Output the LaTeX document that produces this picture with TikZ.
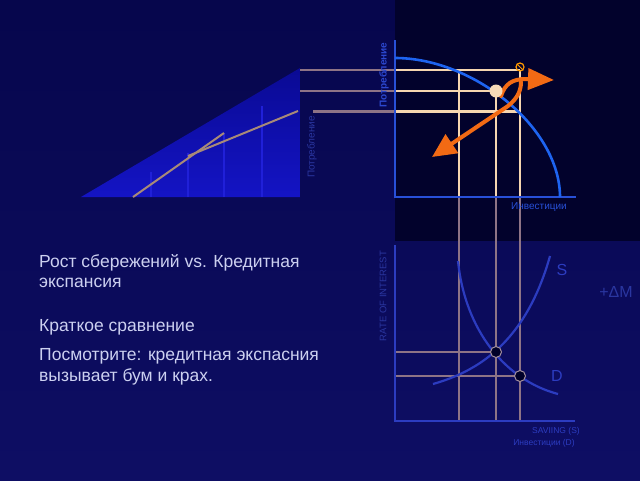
\documentclass[tikz,border=0pt]{standalone}
\usepackage{fontspec}
\setmainfont{Liberation Sans}
\usetikzlibrary{arrows.meta}
\definecolor{bgtop}{HTML}{06064C}
\definecolor{bgbot}{HTML}{0E0E64}
\definecolor{darkq}{HTML}{02022C}
\definecolor{peach}{HTML}{F6D6B0}
\definecolor{mauve}{HTML}{8E7486}
\definecolor{tanl}{HTML}{A88A78}
\definecolor{axisblue}{HTML}{2850D8}
\definecolor{arcblue}{HTML}{1E64F0}
\definecolor{curveblue}{HTML}{2C3CC0}
\definecolor{labelblue}{HTML}{2C48D0}
\definecolor{dimblue}{HTML}{2A36A0}
\definecolor{txt}{HTML}{CCD0F0}
\definecolor{orng}{HTML}{F26A14}
\definecolor{tribot}{HTML}{1414C4}
\definecolor{tritop}{HTML}{0A0A94}
\definecolor{barline}{HTML}{2020D8}
\tikzset{
  peachline/.style={draw=peach, line width=2.6pt},
  mauveline/.style={draw=mauve, line width=2.6pt},
  tanline/.style={draw=tanl, line width=2pt},
  axisline/.style={draw=axisblue, line width=2pt},
  axisdim/.style={draw=curveblue, line width=2pt},
  curve/.style={draw=curveblue, line width=2.2pt},
  eqdot/.style={circle, fill=black!60!blue!40!black, draw=mauve!80!white, line width=1pt, minimum size=11pt, inner sep=0pt},
  bodytext/.style={anchor=base west, text=txt, font=\fontsize{17.5}{20}\selectfont, inner sep=0pt},
  smalllabel/.style={inner sep=0pt, font=\fontsize{9.5}{11}\selectfont},
  orangearrow/.style={draw=orng, line width=4pt, line cap=round},
}
\begin{document}
\begin{tikzpicture}[x=1pt,y=-1pt]
\useasboundingbox (0,0) rectangle (640,480);
% background
\shade[top color=bgtop, bottom color=bgbot] (0,0) rectangle (640,480);
\fill[darkq] (395,0) rectangle (640,241);

% left triangle
\shade[bottom color=tribot, top color=tritop] (81,197) -- (300,197) -- (300,68) -- cycle;
\foreach \x/\y in {151/172,188/153,224/133,262/106}
  \draw[barline, line width=1.4pt] (\x,197) -- (\x,\y);
\coordinate (t1a) at (133,197); \coordinate (t1b) at (224,133);
\coordinate (t2a) at (188,156); \coordinate (t2b) at (298,111);
\draw[tanline] (t1a) -- (t1b);
\draw[tanline] (t2a) -- (t2b);

% coordinates of the grid
\coordinate (L1) at (300,70);  \coordinate (A1) at (395,70);  \coordinate (E1) at (520,70);
\coordinate (L2) at (300,91);  \coordinate (A2) at (395,91);  \coordinate (E2) at (496,91);
\coordinate (L3) at (313,111.5); \coordinate (A3) at (395,111.5); \coordinate (E3) at (520,111.5);
\coordinate (V1t) at (459,70); \coordinate (V1m) at (459,196); \coordinate (V1b) at (459,421);
\coordinate (V2t) at (496,91); \coordinate (V2m) at (496,196); \coordinate (V2b) at (496,421);
\coordinate (V3t) at (520,70); \coordinate (V3m) at (520,196); \coordinate (V3b) at (520,421);
\coordinate (B1a) at (395,352); \coordinate (B1b) at (496,352);
\coordinate (B2a) at (395,376); \coordinate (B2b) at (520,376);

% mauve lines
\draw[mauveline] (L1) -- (A1);
\draw[mauveline] (L2) -- (A2);
\draw[mauveline] (L3) -- (A3);
\draw[mauveline] (V1m) -- (V1b);
\draw[mauveline] (V2m) -- (V2b);
\draw[mauveline] (V3m) -- (V3b);
\draw[mauveline] (B1a) -- (B1b);
\draw[mauveline] (B2a) -- (B2b);

% peach lines
\draw[peachline] (A1) -- (E1);
\draw[peachline] (A2) -- (E2);
\draw[peachline] (A3) -- (E3);
\draw[peachline] (V1t) -- (V1m);
\draw[peachline] (V2t) -- (V2m);
\draw[peachline] (V3t) -- (V3m);

% top chart axes and frontier
\coordinate (ty) at (395,40); \coordinate (to) at (395,197); \coordinate (tx) at (576,197);
\draw[axisline] (ty) -- (to) -- (tx);
\coordinate (arcS) at (395,58); \coordinate (arcE) at (560,197);
\draw[draw=arcblue, line width=2.6pt] (arcS) .. controls (474,58) and (560,128) .. (arcE);

% bottom chart axes
\coordinate (by) at (395,245); \coordinate (bo) at (395,421); \coordinate (bx) at (575,421);
\draw[axisdim] (by) -- (bo) -- (bx);

% S and D curves
\coordinate (S0) at (433,384); \coordinate (S1) at (550,256);
\draw[curve] (S0) .. controls (475,372) and (525,345) .. (S1);
\coordinate (D0) at (458,261); \coordinate (D1) at (558,394);
\draw[curve] (D0) .. controls (465,330) and (505,380) .. (D1);

% dots
\node[eqdot] (q1) at (496,352) {};
\node[eqdot] (q2) at (520,376) {};

% orange arrow
\coordinate (shTop) at (521,82);
\coordinate (shMid) at (508,106);
\coordinate (lowTip) at (432,157);
\coordinate (hk0) at (501,96);
\coordinate (rTip) at (554,80);
\draw[orangearrow, -{Triangle[length=24pt,width=22pt]}] (shTop) .. controls (521,90) and (518,98) .. (shMid) -- (lowTip);
\draw[orangearrow, -{Triangle[length=26pt,width=21pt]}] (hk0) .. controls (505,84) and (512,79) .. (526,79) -- (rTip);

\node[circle, fill=peach!90!white, minimum size=13pt, inner sep=0pt] (pdot) at (496,91) {};
\node[circle, draw=orange!80!yellow, line width=1.2pt, minimum size=8pt, inner sep=0pt] (odot) at (520,67) {};
\draw[orange!80!yellow, line width=1pt] (odot.north west) -- (odot.south east);

% labels
\node[smalllabel, text=labelblue, rotate=90, font=\fontsize{10}{12}\selectfont\bfseries] (lbc1) at (384,75) {Потребление};
\node[smalllabel, text=dimblue, rotate=90, font=\fontsize{10}{12}\selectfont] (lbc2) at (312,147) {Потребление};
\node[smalllabel, text=axisblue, font=\fontsize{10}{12}\selectfont] (lbinv) at (539,207) {Инвестиции};
\node[smalllabel, text=dimblue, rotate=90] (lbr) at (383,296) {RATE OF INTEREST};
\node[smalllabel, text=curveblue, font=\fontsize{8.5}{10}\selectfont] (lbs) at (556,431) {SAVIING (S)};
\node[smalllabel, text=curveblue, font=\fontsize{8.5}{10}\selectfont] (lbd) at (544,443) {Инвестиции (D)};
\node[inner sep=0pt, text=curveblue, font=\fontsize{16}{18}\selectfont] (lS) at (562,270) {S};
\node[inner sep=0pt, text=curveblue, font=\fontsize{16}{18}\selectfont] (lD) at (557,376) {D};
\node[inner sep=0pt, text=dimblue, font=\fontsize{16}{18}\selectfont] (lM) at (616,292) {+ΔM};

% body text
\node[bodytext] (tx1) at (39,267) {Рост сбережений vs. Кредитная};
\node[bodytext] (tx2) at (39,287) {экспансия};
\node[bodytext] (tx3) at (39,331) {Краткое сравнение};
\node[bodytext] (tx4) at (39,360) {Посмотрите: кредитная экспасния};
\node[bodytext] (tx5) at (39,381) {вызывает бум и крах.};
\end{tikzpicture}
\end{document}
